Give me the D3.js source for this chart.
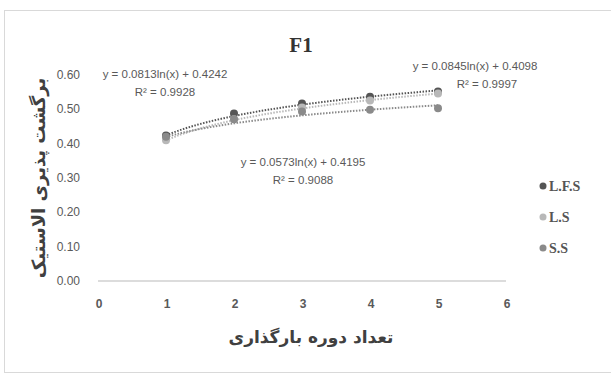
<!DOCTYPE html>
<html>
<head>
<meta charset="utf-8">
<script src="https://cdn.jsdelivr.net/npm/d3@7"></script>
<style>
  body { margin: 0; background: #fff; }
  svg { display: block; }
</style>
</head>
<body>
<svg></svg>
<script>
const w = 611;
const h = 376;

// data
const cycles = [1, 2, 3, 4, 5];
const seriesNames = ['L.F.S', 'L.S', 'S.S'];
const lfsValues = [0.424, 0.488, 0.517, 0.537, 0.552];
const lsValues = [0.41, 0.471, 0.505, 0.526, 0.546];
const ssValues = [0.42, 0.471, 0.494, 0.499, 0.503];
// log trend lines y = a ln(x) + b
const trendA = [0.0813, 0.0845, 0.0573];
const trendB = [0.4242, 0.4098, 0.4195];
const trendR2 = ['0.9928', '0.9997', '0.9088'];
const xTicks = [0, 1, 2, 3, 4, 5, 6];
const yTicks = [0, 0.1, 0.2, 0.3, 0.4, 0.5, 0.6];

const colors = ['#555555', '#b8b8b8', '#8a8a8a'];
const allValues = [lfsValues, lsValues, ssValues];

const svg = d3.select('svg').attr('width', w).attr('height', h);

svg
  .append('rect')
  .attr('x', 4.5)
  .attr('y', 10.5)
  .attr('width', 620)
  .attr('height', 362)
  .attr('fill', 'none')
  .attr('stroke', '#d9d9d9');

const x = d3.scaleLinear().domain([0, 6]).range([98, 506]);
const y = d3.scaleLinear().domain([0, 0.6]).range([281, 75]);

// x axis line
svg
  .append('line')
  .attr('x1', x(0))
  .attr('x2', x(6))
  .attr('y1', y(0))
  .attr('y2', y(0))
  .attr('stroke', '#d0d0d0')
  .attr('stroke-width', 1.3);

svg
  .selectAll('.xtick')
  .data(xTicks)
  .enter()
  .append('text')
  .attr('class', 'xtick')
  .attr('x', d => x(d) + 1)
  .attr('y', y(0) + 27)
  .attr('text-anchor', 'middle')
  .style('font-family', 'Liberation Sans')
  .style('font-size', '12px')
  .style('font-weight', 'bold')
  .style('fill', '#595959')
  .text(d => d);

svg
  .selectAll('.ytick')
  .data(yTicks)
  .enter()
  .append('text')
  .attr('class', 'ytick')
  .attr('x', 80)
  .attr('y', d => y(d) + 4)
  .attr('text-anchor', 'end')
  .style('font-family', 'Liberation Sans')
  .style('font-size', '12px')
  .style('fill', '#595959')
  .text(d => d.toFixed(2));

// title
svg
  .append('text')
  .attr('x', 301)
  .attr('y', 52)
  .attr('text-anchor', 'middle')
  .style('font-family', 'Liberation Serif')
  .style('font-size', '21px')
  .style('font-weight', 'bold')
  .style('fill', '#333')
  .text('F1');

// axis titles
svg
  .append('text')
  .attr('transform', 'translate(45,178) rotate(-90)')
  .attr('text-anchor', 'middle')
  .style('font-family', 'DejaVu Sans')
  .style('font-size', '18px')
  .style('font-weight', 'bold')
  .style('fill', '#404040')
  .text('برگشت پذیری الاستیک');

svg
  .append('text')
  .attr('x', 311)
  .attr('y', 343)
  .attr('text-anchor', 'middle')
  .style('font-family', 'DejaVu Sans')
  .style('font-size', '17px')
  .style('font-weight', 'bold')
  .style('fill', '#404040')
  .text('تعداد دوره بارگذاری');

// trend lines
const trendX = d3.range(1, 5.001, 0.05);
trendA.forEach((a, i) => {
  const line = d3
    .line()
    .x(d => x(d))
    .y(d => y(a * Math.log(d) + trendB[i]));
  svg
    .append('path')
    .datum(trendX)
    .attr('d', line)
    .attr('fill', 'none')
    .attr('stroke', colors[i])
    .attr('stroke-width', 2)
    .attr('stroke-dasharray', '1.5,1.5');
});

// points
allValues.forEach((vals, i) => {
  svg
    .selectAll('.pt' + i)
    .data(vals)
    .enter()
    .append('circle')
    .attr('class', 'pt' + i)
    .attr('cx', (d, j) => x(cycles[j]))
    .attr('cy', d => y(d))
    .attr('r', 4)
    .attr('fill', colors[i]);
});

// equation labels
const eqPos = [
  [165, 78],
  [475, 70],
  [303, 166]
];
trendA.forEach((a, i) => {
  const g = svg.append('g').style('font-family', 'Liberation Sans').style('font-size', '11.5px').style('fill', '#595959');
  g.append('text')
    .attr('x', eqPos[i][0])
    .attr('y', eqPos[i][1])
    .attr('text-anchor', 'middle')
    .text(`y = ${a}ln(x) + ${trendB[i]}`);
  g.append('text')
    .attr('x', eqPos[i][0] + (i === 1 ? 12 : 0))
    .attr('y', eqPos[i][1] + 18)
    .attr('text-anchor', 'middle')
    .text(`R² = ${trendR2[i]}`);
});

// legend
seriesNames.forEach((name, i) => {
  const ly = 186 + i * 31;
  svg
    .append('circle')
    .attr('cx', 543)
    .attr('cy', ly)
    .attr('r', 3.5)
    .attr('fill', colors[i]);
  svg
    .append('text')
    .attr('x', 549)
    .attr('y', ly + 5)
    .style('font-family', 'Liberation Serif')
    .style('font-size', '14px')
    .style('font-weight', 'bold')
    .style('fill', '#555')
    .text(name);
});
</script>
</body>
</html>
